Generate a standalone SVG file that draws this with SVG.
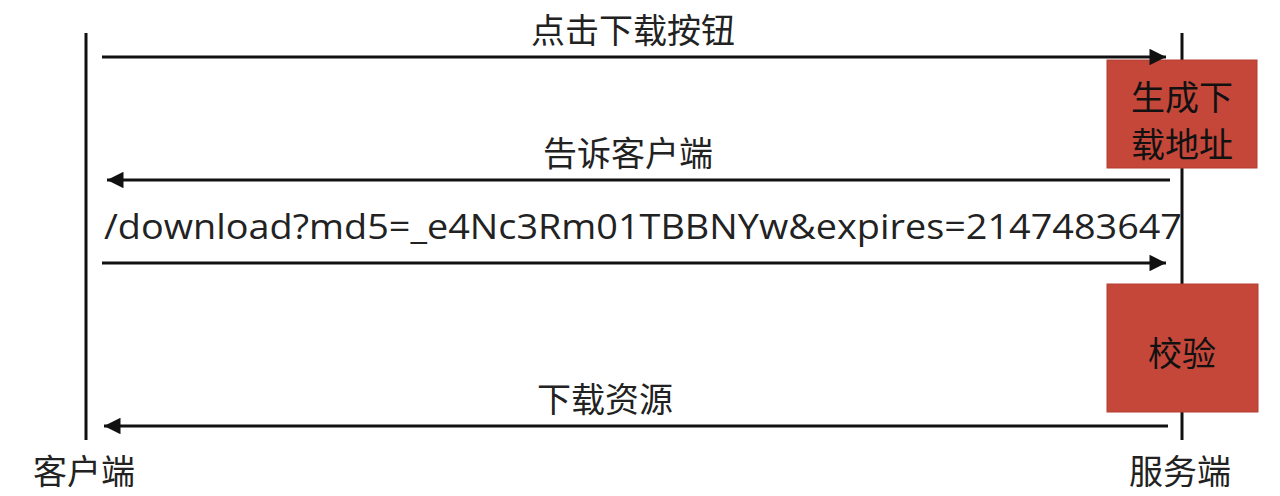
<svg xmlns="http://www.w3.org/2000/svg" width="1280" height="496" viewBox="0 0 1280 496">
<style>
.lbl{font-family:"Noto Sans CJK SC","Noto Sans",sans-serif;font-size:34px;fill:#222;text-anchor:middle}
.bt{fill:#111}
.url{font-family:"Open Sans","Noto Sans",sans-serif;font-size:35px;fill:#222}
.life{stroke:#111;stroke-width:3}
.msg{stroke:#111;stroke-width:3;fill:none}
.box{fill:#c4473a;stroke:#b53c30;stroke-width:1}
</style>
<defs>
<marker id="ah" viewBox="0 0 10 10" refX="10" refY="5" markerWidth="6.5" markerHeight="5.5" markerUnits="strokeWidth" orient="auto">
<path d="M0,0 L10,5 L0,10 z" fill="#111"/>
</marker>
</defs>
<rect width="1280" height="496" fill="#fff"/>
<g id="client">
<line class="life" x1="86" y1="33" x2="86" y2="440"/>
<text class="lbl" x="84" y="484" font-size="33">客户端</text>
</g>
<g id="server">
<line class="life" x1="1182" y1="33" x2="1182" y2="440"/>
<text class="lbl" x="1180" y="484" font-size="33">服务端</text>
</g>
<g id="gen">
<rect class="box" x="1107" y="60" width="150" height="108"/>
<text class="lbl bt" x="1182" y="110" font-size="35">生成下</text>
<text class="lbl bt" x="1182" y="157" font-size="35">载地址</text>
</g>
<g id="verify">
<rect class="box" x="1107" y="284" width="151" height="128"/>
<text class="lbl bt" x="1182" y="366" font-size="35">校验</text>
</g>
<g id="connectors">
<line class="msg" x1="102" y1="57" x2="1166" y2="57" marker-end="url(#ah)"/>
<text class="lbl" x="633" y="43">点击下载按钮</text>
<line class="msg" x1="1170" y1="180" x2="107" y2="180" marker-end="url(#ah)"/>
<text class="lbl" x="628" y="166">告诉客户端</text>
<text class="url" x="104" y="239" textLength="1078" lengthAdjust="spacingAndGlyphs">/download?md5=_e4Nc3Rm01TBBNYw&amp;expires=2147483647</text>
<line class="msg" x1="102" y1="263" x2="1166" y2="263" marker-end="url(#ah)"/>
<line class="msg" x1="1168" y1="426" x2="104" y2="426" marker-end="url(#ah)"/>
<text class="lbl" x="605" y="412">下载资源</text>
</g>
</svg>
